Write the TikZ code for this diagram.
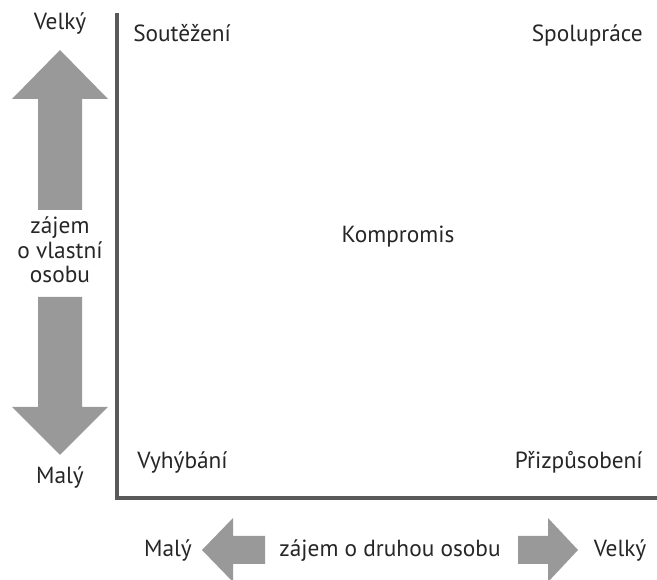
\documentclass[tikz,border=0pt]{standalone}
\usepackage{fontspec}
\setmainfont{PT Sans}
\usetikzlibrary{calc}

\begin{document}
\begin{tikzpicture}[x=0.75pt,y=-0.75pt,font=\fontsize{17.5}{18.5}\selectfont,
    every node/.style={text=black!85,inner sep=0pt},
    bigarrow/.style={fill=black!40,draw=none},
    axisline/.style={draw=black!65,line width=2.6pt}]

\useasboundingbox (0,0) rectangle (657,580);

% axes
\coordinate (T) at (117,13);

\coordinate (O) at (117,498);

\coordinate (E) at (657,498);

\draw[axisline] (T) -- (O) -- (E);

% own interest, up and down
\node[anchor=base] (velkyV) at (60,30) {Velký};

\coordinate (U) at (60,50);

\fill[bigarrow] (U) -- ++(48,49) -- ++(-26,0) -- ++(0,111) -- ++(-44,0)
    -- ++(0,-111) -- ++(-26,0) -- cycle;

\node[align=center] (vlastni) at (60,250) {zájem\\o vlastní\\osobu};

\coordinate (D) at (60,455);

\fill[bigarrow] (D) -- ++(48,-48) -- ++(-26,0) -- ++(0,-110) -- ++(-44,0)
    -- ++(0,110) -- ++(-26,0) -- cycle;

\node[anchor=base] (malyV) at (60,484) {Malý};

% the five styles
\node[anchor=base west] (soutez) at (133,42) {Soutěžení};

\node[anchor=base east] (spoluprace) at (643,42) {Spolupráce};

\node[anchor=base] (kompromis) at (398,243) {Kompromis};

\node[anchor=base west] (vyhybani) at (137,469) {Vyhýbání};

\node[anchor=base east] (prizpusobeni) at (643,469) {Přizpůsobení};

% other's interest, left and right
\node[anchor=base] (malyH) at (168,557) {Malý};

\coordinate (L) at (202,550);

\fill[bigarrow] (L) -- ++(31,-32) -- ++(0,18) -- ++(32,0) -- ++(0,28)
    -- ++(-32,0) -- ++(0,18) -- cycle;

\node[anchor=base] (druhou) at (390,557) {zájem o druhou osobu};

\coordinate (P) at (578,550);

\fill[bigarrow] (P) -- ++(-30,-32) -- ++(0,18) -- ++(-30,0) -- ++(0,28)
    -- ++(30,0) -- ++(0,18) -- cycle;

\node[anchor=base] (velkyH) at (620,557) {Velký};

\end{tikzpicture}
\end{document}
